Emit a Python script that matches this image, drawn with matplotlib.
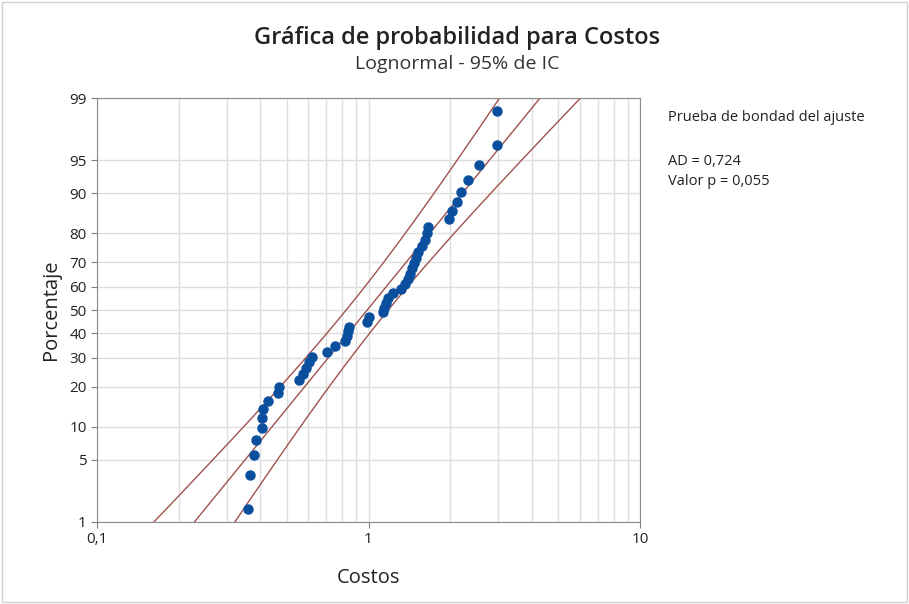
import numpy as np
import matplotlib
matplotlib.use('Agg')
import matplotlib.pyplot as plt
from matplotlib.patches import Rectangle
from statistics import NormalDist

# valores (ordenados)
costos = [0.361, 0.366, 0.379, 0.385, 0.405, 0.406, 0.410, 0.428, 0.463, 0.468,
          0.556, 0.574, 0.589, 0.604, 0.619, 0.702, 0.753, 0.819, 0.830, 0.837,
          0.850, 0.985, 1.004, 1.131, 1.140, 1.155, 1.180, 1.228, 1.317, 1.362,
          1.392, 1.416, 1.443, 1.465, 1.490, 1.522, 1.568, 1.615, 1.643, 1.661,
          1.985, 2.026, 2.113, 2.191, 2.331, 2.559, 2.967, 2.970]
# ajuste lognormal (ubicacion, escala en ln)
ubicacion = -0.011
escala = 0.630

yticks = [1, 5, 10, 20, 30, 40, 50, 60, 70, 80, 90, 95, 99]
xticks = [0.1, 1, 10]
xticklabels = ['0,1', '1', '10']

nd = NormalDist()
_ppf = np.vectorize(lambda v: nd.inv_cdf(v / 100.0), otypes=[float])
_cdf = np.vectorize(lambda v: nd.cdf(v) * 100.0, otypes=[float])

def fwd(p):
    p = np.clip(np.asarray(p, dtype=float), 1e-6, 100 - 1e-6)
    return _ppf(p)

def inv(z):
    z = np.clip(np.asarray(z, dtype=float), -30, 30)
    return _cdf(z)

x = np.array(costos)
n = len(x)
rank = np.arange(1, n + 1)
pct = (rank - 0.3) / (n + 0.4) * 100

zz = np.linspace(-2.6, 2.6, 300)
pp = inv(zz)
lx = ubicacion + zz * escala
se = np.sqrt(escala**2 / n + zz**2 * escala**2 / (2 * n))
fit = np.exp(lx)
lo = np.exp(lx - 1.96 * se)
hi = np.exp(lx + 1.96 * se)

plt.rcParams['font.family'] = ['Open Sans', 'DejaVu Sans']

fig = plt.figure(figsize=(9.09, 6.04), dpi=100)
fig.patches.append(Rectangle((0.002, 0.004), 0.996, 0.993, transform=fig.transFigure,
                             fill=False, edgecolor='#d0d0d0', lw=1))
ax = fig.add_axes([0.1067, 0.1358, 0.5974, 0.7019])
ax.set_xscale('log')
ax.set_yscale('function', functions=(fwd, inv))

lc = '#a0524f'
ax.plot(fit, pp, color=lc, lw=1)
ax.plot(lo, pp, color=lc, lw=1)
ax.plot(hi, pp, color=lc, lw=1)
ax.plot(x, pct, 'o', color='#0a4f9e', ms=6.5, mec='#0a4f9e', zorder=3)

ax.set_xlim(0.1, 10)
ax.set_ylim(1, 99)
ax.set_yticks(yticks)
ax.set_yticklabels([str(t) for t in yticks])
ax.set_xticks(xticks)
ax.set_xticklabels(xticklabels)
minor = [v * d for d in (0.1, 1) for v in range(2, 10)]
ax.set_xticks(minor, minor=True)
ax.xaxis.set_minor_formatter(matplotlib.ticker.NullFormatter())
ax.yaxis.set_minor_locator(matplotlib.ticker.NullLocator())
ax.grid(True, which='both', color='#dedede', lw=1)
ax.set_axisbelow(True)
ax.tick_params(which='major', length=4, color='#808080', labelsize=11, labelcolor='#222222')
ax.tick_params(which='minor', length=0)
for s in ax.spines.values():
    s.set_color('#8a8a8a')

ax.set_xlabel('Costos', fontsize=14.5, color='#222222', labelpad=15)
ax.set_ylabel('Porcentaje', fontsize=14.5, color='#222222', labelpad=6)

fig.text(0.503, 0.937, 'Gráfica de probabilidad para Costos', ha='center', va='center',
         fontsize=17, fontweight='semibold', color='#222222')
fig.text(0.503, 0.894, 'Lognormal - 95% de IC', ha='center', va='center',
         fontsize=14, color='#333333')
fig.text(0.735, 0.805, 'Prueba de bondad del ajuste', ha='left', va='center',
         fontsize=10.5, color='#222222')
fig.text(0.735, 0.716, 'AD = 0,724\nValor p = 0,055', ha='left', va='center',
         fontsize=10.5, color='#222222', linespacing=1.45)

fig.savefig('out.png', dpi=100)
